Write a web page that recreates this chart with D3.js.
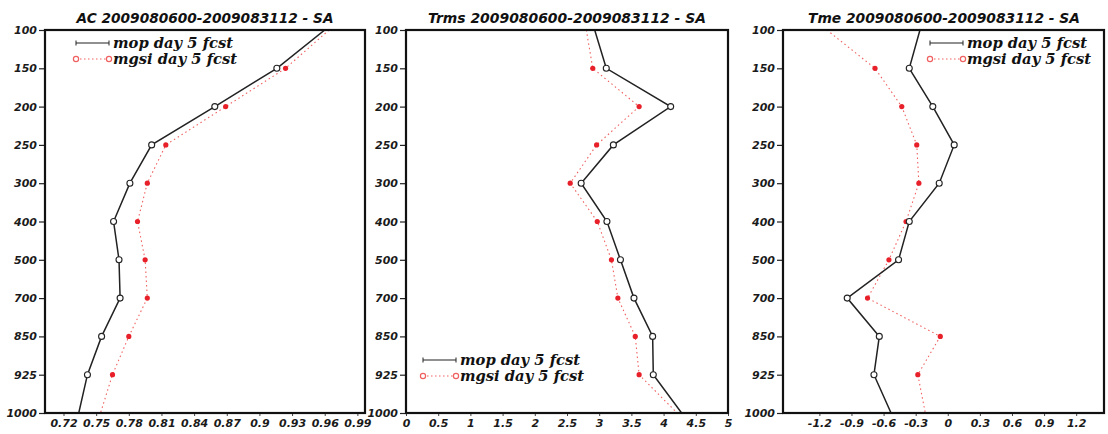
<!DOCTYPE html>
<html><head><meta charset="utf-8">
<script src="https://cdn.jsdelivr.net/npm/d3@7"></script>
<style>body{margin:0;background:#fff}svg{display:block}</style>
</head><body>
<svg id="c" width="1108" height="434"></svg>
<script>
const levels = [100,150,200,250,300,400,500,700,850,925,1000];
const titles = ["AC 2009080600-2009083112 - SA","Trms 2009080600-2009083112 - SA","Tme 2009080600-2009083112 - SA"];
const seriesNames = ["mop day 5 fcst","mgsi day 5 fcst"];

const acMop   = [0.960,0.916,0.859,0.801,0.781,0.766,0.771,0.772,0.755,0.742,0.734];
const acMgsi  = [0.964,0.924,0.869,0.814,0.797,0.788,0.795,0.797,0.780,0.765,0.754];
const trmsMop = [2.93,3.11,4.11,3.22,2.72,3.12,3.33,3.54,3.83,3.84,4.28];
const trmsMgsi= [2.80,2.90,3.62,2.96,2.55,2.97,3.19,3.29,3.56,3.62,4.21];
const tmeMop  = [-0.26,-0.36,-0.14,0.06,-0.08,-0.36,-0.46,-0.94,-0.64,-0.69,-0.53];
const tmeMgsi = [-1.13,-0.68,-0.43,-0.29,-0.27,-0.39,-0.55,-0.75,-0.07,-0.28,-0.21];

const acTicks   = ["0.72","0.75","0.78","0.81","0.84","0.87","0.9","0.93","0.96","0.99"];
const trmsTicks = ["0","0.5","1","1.5","2","2.5","3","3.5","4","4.5","5"];
const tmeTicks  = ["-1.2","-0.9","-0.6","-0.3","0","0.3","0.6","0.9","1.2"];

const acDomain = [0.703, 0.997];
const trmsDomain = [0, 5];
const tmeDomain = [-1.54, 1.46];

const svg = d3.select("#c");
const plotTop = 30, plotBottom = 413;
const panels = [
  {x0:45, x1:365, dom:acDomain, mop:acMop, mgsi:acMgsi, ticks:acTicks, title:titles[0], tcx:205, tlen:257,
   leg:{x:76, y:43}},
  {x0:406, x1:728, dom:trmsDomain, mop:trmsMop, mgsi:trmsMgsi, ticks:trmsTicks, title:titles[1], tcx:567, tlen:278,
   leg:{x:423, y:360}},
  {x0:783, x1:1104, dom:tmeDomain, mop:tmeMop, mgsi:tmeMgsi, ticks:tmeTicks, title:titles[2], tcx:944, tlen:272,
   leg:{x:930, y:43}}
];

const tickFont = "'DejaVu Sans', sans-serif";
panels.forEach(p => {
  const g = svg.append("g");
  const x = d3.scaleLinear().domain(p.dom).range([p.x0, p.x1]);
  const y = d3.scalePoint().domain(levels).range([plotTop, plotBottom]);

  const ya = g.append("g").attr("transform", `translate(${p.x0},0)`)
    .call(d3.axisLeft(y).tickSize(6).tickPadding(2));
  ya.select(".domain").remove();
  ya.selectAll("line").attr("stroke", "#222").attr("stroke-width", 1.2);
  ya.selectAll("text").attr("font-family", tickFont).attr("font-weight", "bold")
    .attr("font-style", "italic").attr("font-size", 11).attr("fill", "#1a1a1a");

  const xa = g.append("g").attr("transform", `translate(0,${plotBottom})`)
    .call(d3.axisBottom(x).tickValues(p.ticks.map(Number)).tickFormat((d,i)=>p.ticks[i]).tickSize(3).tickPadding(3));
  xa.select(".domain").remove();
  xa.selectAll("line").attr("stroke", "#444");
  xa.selectAll("text").attr("font-family", tickFont).attr("font-weight", "bold")
    .attr("font-style", "italic").attr("font-size", 11).attr("fill", "#1a1a1a");

  g.append("text").attr("x", p.tcx).attr("y", 23).attr("text-anchor", "middle")
    .attr("font-family", tickFont).attr("font-weight", "bold").attr("font-style", "italic")
    .attr("font-size", 14.5).attr("textLength", p.tlen).attr("lengthAdjust", "spacingAndGlyphs")
    .attr("fill", "#111").text(p.title);

  const clip = "clip" + p.x0;
  svg.append("clipPath").attr("id", clip).append("rect")
    .attr("x", p.x0).attr("y", plotTop).attr("width", p.x1 - p.x0).attr("height", plotBottom - plotTop);
  const inner = g.append("g").attr("clip-path", `url(#${clip})`);

  const line = d3.line().x(d => x(d[0])).y(d => y(d[1]));
  const mgsiPts = p.mgsi.map((v,i)=>[v, levels[i]]);
  const mopPts = p.mop.map((v,i)=>[v, levels[i]]);

  inner.append("path").datum(mgsiPts).attr("d", line).attr("fill", "none")
    .attr("stroke", "#f06060").attr("stroke-width", 1.1).attr("stroke-dasharray", "1.5,3");
  inner.append("path").datum(mopPts).attr("d", line).attr("fill", "none")
    .attr("stroke", "#222").attr("stroke-width", 1.5);

  inner.selectAll("circle.mgsi").data(mgsiPts.slice(1, -1)).join("circle")
    .attr("class", "mgsi").attr("cx", d => x(d[0])).attr("cy", d => y(d[1]))
    .attr("r", 2.6).attr("fill", "#e8202a");
  inner.selectAll("circle.mop").data(mopPts.slice(1, -1)).join("circle")
    .attr("class", "mop").attr("cx", d => x(d[0])).attr("cy", d => y(d[1]))
    .attr("r", 3).attr("fill", "#fff").attr("stroke", "#222").attr("stroke-width", 1.1);

  g.append("rect").attr("x", p.x0).attr("y", plotTop).attr("width", p.x1 - p.x0).attr("height", plotBottom - plotTop)
    .attr("fill", "none").attr("stroke", "#111").attr("stroke-width", 2.2);

  const L = p.leg, lw = 33;
  const lg = g.append("g");
  lg.append("line").attr("x1", L.x).attr("x2", L.x + lw).attr("y1", L.y).attr("y2", L.y)
    .attr("stroke", "#222").attr("stroke-width", 1.2);
  [L.x, L.x + lw].forEach(xx => lg.append("line").attr("x1", xx).attr("x2", xx)
    .attr("y1", L.y - 2.5).attr("y2", L.y + 2.5).attr("stroke", "#222").attr("stroke-width", 1));
  const y2 = L.y + 16;
  lg.append("line").attr("x1", L.x).attr("x2", L.x + lw).attr("y1", y2).attr("y2", y2)
    .attr("stroke", "#f06060").attr("stroke-width", 1.1).attr("stroke-dasharray", "1.5,2.5");
  [L.x, L.x + lw].forEach(xx => lg.append("circle").attr("cx", xx).attr("cy", y2).attr("r", 2.6)
    .attr("fill", "#fff").attr("stroke", "#f06060").attr("stroke-width", 1.2));
  seriesNames.forEach((s, i) => lg.append("text").attr("x", L.x + lw + 4).attr("y", L.y + 5 + i * 16)
    .attr("font-family", "'DejaVu Serif', serif").attr("font-weight", "bold").attr("font-style", "italic")
    .attr("font-size", 14.5).attr("textLength", i === 0 ? 120 : 124).attr("lengthAdjust", "spacingAndGlyphs")
    .attr("fill", "#111").text(s));
});
</script>
</body></html>
